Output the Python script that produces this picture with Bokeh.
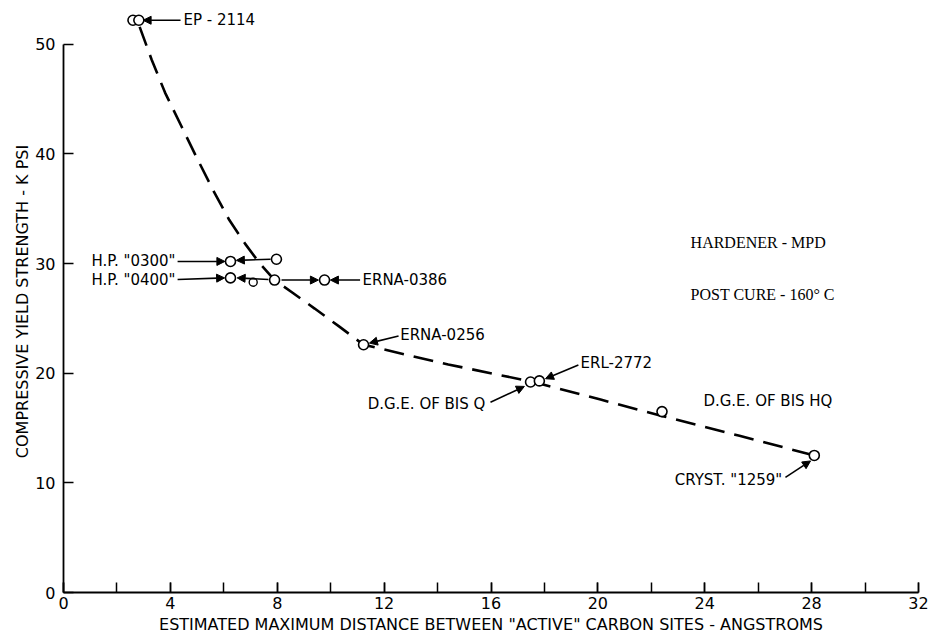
from bokeh.plotting import figure
from bokeh.models import (Arrow, NormalHead, Label, ColumnDataSource, Range1d,
                          FixedTicker, SingleIntervalTicker)
from bokeh.embed import file_html
from bokeh.resources import INLINE

# ---- data ----
# measured points (distance in angstroms, yield strength in kpsi)
pt_names = ["EP-2114 a", "EP-2114 b", "H.P. 0300 a", "H.P. 0300 b",
            "H.P. 0400 a", "H.P. 0400 b", "ERNA-0386", "ERNA-0256",
            "D.G.E. BIS Q", "ERL-2772", "D.G.E. BIS HQ", "CRYST 1259"]
pt_x = [2.6, 2.82, 6.25, 7.97, 6.25, 7.9, 9.77, 11.23, 17.48, 17.81, 22.4, 28.1]
pt_y = [52.2, 52.2, 30.2, 30.4, 28.7, 28.5, 28.5, 22.6, 19.2, 19.3, 16.5, 12.5]

# small extra point under the H.P. "0400" arrow
small_x = [7.1]
small_y = [28.3]

# dashed trend curve
curve_x = [2.85, 3.3, 3.8, 4.4, 5.0, 5.6, 6.2, 6.8, 7.35, 7.9, 8.6, 9.4, 10.3,
           11.23, 14.4, 17.6, 20.1, 22.4, 25.3, 28.1]
curve_y = [51.6, 48.6, 45.6, 42.6, 39.6, 36.7, 34.0, 31.8, 30.0, 28.5, 27.3,
           25.9, 24.3, 22.6, 20.8, 19.2, 17.6, 16.1, 14.3, 12.5]

# text labels
lab_text = ["EP - 2114", 'H.P. "0300"', 'H.P. "0400"', "ERNA-0386", "ERNA-0256",
            "ERL-2772", "D.G.E. OF BIS Q", "D.G.E. OF BIS HQ", 'CRYST. "1259"']
lab_x = [4.49, 4.19, 4.19, 11.19, 12.6, 19.35, 15.79, 23.95, 26.9]
lab_y = [52.25, 30.2, 28.55, 28.5, 23.45, 20.9, 17.2, 17.45, 10.27]
lab_align = ["left", "right", "right", "left", "left", "left", "right", "left", "right"]

note_text = ["HARDENER - MPD", "POST CURE - 160\u00b0 C"]
note_x = [23.47, 23.47]
note_y = [31.9, 27.2]

# arrows (start -> end, head at end)
arr_x0 = [4.38, 4.27, 7.75, 4.27, 7.67, 8.16, 11.1, 12.54, 19.27, 15.98, 27.02]
arr_y0 = [52.2, 30.2, 30.4, 28.55, 28.55, 28.5, 28.5, 23.4, 20.75, 17.35, 10.5]
arr_x1 = [2.98, 6.04, 6.47, 6.03, 6.5, 9.54, 9.99, 11.45, 18.04, 17.25, 27.96]
arr_y1 = [52.2, 30.2, 30.3, 28.7, 28.7, 28.5, 28.5, 22.75, 19.5, 18.8, 12.0]

x_ticks_major = 4
y_ticks = [0, 10, 20, 30, 40, 50]

FONT = "DejaVu Sans"

p = figure(width=932, height=636, output_backend="svg", toolbar_location=None,
           x_range=Range1d(0, 32), y_range=Range1d(0, 53.09),
           min_border_left=63, min_border_right=14, min_border_top=10,
           min_border_bottom=42)
p.outline_line_color = None
p.grid.visible = False
p.background_fill_color = "white"

# axes
xa = p.xaxis[0]
xa.ticker = SingleIntervalTicker(interval=x_ticks_major, num_minor_ticks=2)
xa.bounds = (0, 32)
xa.major_tick_in = 10
xa.major_tick_out = 0
xa.minor_tick_in = 10
xa.minor_tick_out = 0
xa.major_label_standoff = 4
xa.axis_label = 'ESTIMATED MAXIMUM DISTANCE BETWEEN "ACTIVE" CARBON SITES - ANGSTROMS'
xa.axis_label_standoff = 3
ya = p.yaxis[0]
ya.ticker = FixedTicker(ticks=y_ticks)
ya.bounds = (0, 50)
ya.major_tick_in = 10
ya.major_tick_out = 0
ya.minor_tick_line_color = None
ya.major_label_standoff = 8
ya.axis_label = "COMPRESSIVE YIELD STRENGTH - K PSI"
ya.axis_label_standoff = 0
for ax in (xa, ya):
    ax.axis_line_color = "black"
    ax.axis_line_width = 1.8
    ax.major_tick_line_color = "black"
    ax.major_tick_line_width = 1.5
    ax.minor_tick_line_width = 1.5
    ax.major_label_text_font = FONT
    ax.major_label_text_font_size = "16px"
    ax.major_label_text_color = "black"
    ax.axis_label_text_font = FONT
    ax.axis_label_text_font_size = "16px"
    ax.axis_label_text_font_style = "normal"
    ax.axis_label_text_color = "black"

# trend curve
p.line(curve_x, curve_y, line_color="black", line_width=2.6, line_dash="20 10")

# points
src = ColumnDataSource(dict(x=pt_x, y=pt_y, name=pt_names))
p.scatter("x", "y", source=src, marker="circle", size=10, fill_color="white",
          line_color="black", line_width=1.6)
p.scatter(small_x, small_y, marker="circle", size=8, fill_color="white",
          line_color="black", line_width=1.4)

# arrows
for x0, y0, x1, y1 in zip(arr_x0, arr_y0, arr_x1, arr_y1):
    p.add_layout(Arrow(end=NormalHead(size=8, fill_color="black", line_color="black",
                                      line_width=1),
                       x_start=x0, y_start=y0, x_end=x1, y_end=y1,
                       line_color="black", line_width=1.6))

# labels
for t, x, y, a in zip(lab_text, lab_x, lab_y, lab_align):
    p.add_layout(Label(x=x, y=y, text=t, text_align=a, text_baseline="middle",
                       text_font=FONT, text_font_size="15px", text_color="black"))
for t, x, y in zip(note_text, note_x, note_y):
    p.add_layout(Label(x=x, y=y, text=t, text_align="left", text_baseline="middle",
                       text_font="Liberation Serif", text_font_size="16px",
                       text_color="black"))

open("out.html", "w").write(file_html(p, INLINE))
